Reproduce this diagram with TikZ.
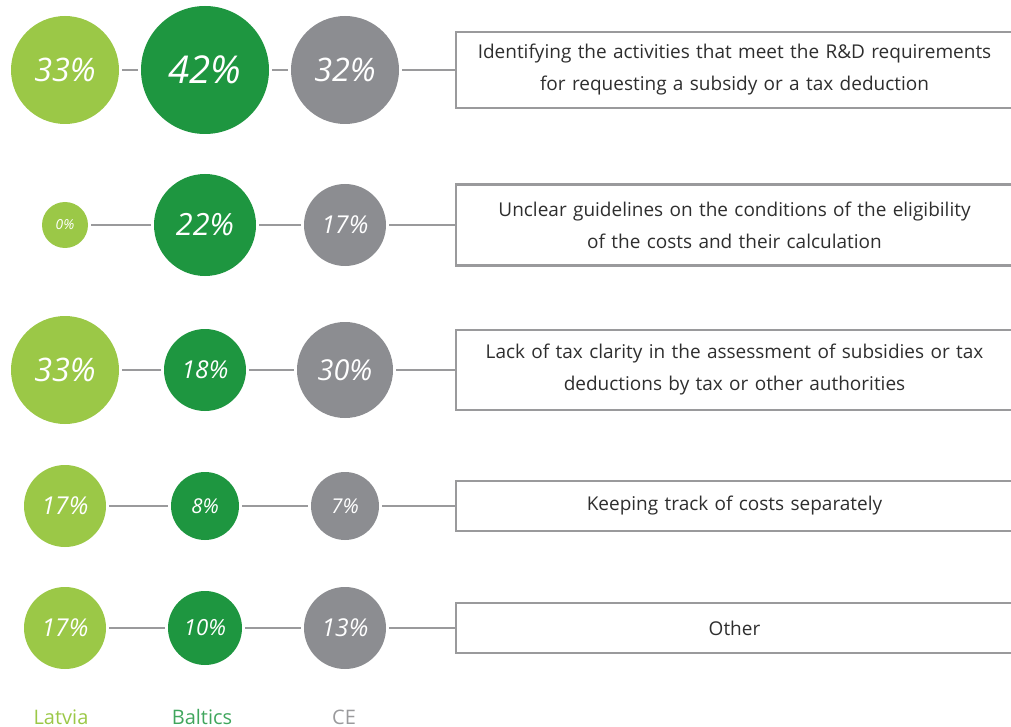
\documentclass[tikz,border=0pt]{standalone}
\usepackage{fontspec}
\setmainfont{Open Sans}
\definecolor{latv}{HTML}{9BC847}
\definecolor{balt}{HTML}{1E9640}
\definecolor{cegr}{HTML}{8C8D91}
\definecolor{lngr}{HTML}{9A9A9C}
\begin{document}
\begin{tikzpicture}[x=1pt, y=-1pt,
	bub/.style={circle, inner sep=0pt, text=white},
	link/.style={draw=lngr, line width=2.5pt, shorten <=3pt, shorten >=3pt},
	tobox/.style={draw=lngr, line width=2.5pt, shorten <=3pt},
	issue/.style={draw=lngr, line width=2.2pt, minimum width=557pt, text width=545pt, align=center, text=black!82, font=\fontsize{19}{32}\selectfont}]
\useasboundingbox (0,0) rectangle (1011,727);

% bubbles: row / y / radius and value for Latvia, Baltics, CE
\foreach \i/\y/\ra/\pa/\rb/\pb/\rc/\pc in {1/70/54/33/64/42/54/32, 2/225/23/0/51/22/41/17, 3/370/54/33/41/18/48/30, 4/506/41/17/34/8/34/7, 5/628/41/17/37/10/41/13}
{
	\pgfmathsetmacro\fa{0.6*\ra} \pgfmathsetmacro\fb{0.6*\rb} \pgfmathsetmacro\fc{0.6*\rc}
	\node [bub, fill=latv, minimum size=2*\ra, font=\itshape\fontsize{\fa}{\fa}\selectfont] (L\i) at (65,\y) {\pa\%};
	\node [bub, fill=balt, minimum size=2*\rb, font=\itshape\fontsize{\fb}{\fb}\selectfont] (B\i) at (205,\y) {\pb\%};
	\node [bub, fill=cegr, minimum size=2*\rc, font=\itshape\fontsize{\fc}{\fc}\selectfont] (C\i) at (345,\y) {\pc\%};
	\draw [link] (L\i) -- (B\i);
	\draw [link] (B\i) -- (C\i);
}

\node [issue, minimum height=76] (T1) at (734.5,70) {Identifying the activities that meet the R\&D requirements\\for requesting a subsidy or a tax deduction};
\node [issue, minimum height=81] (T2) at (734.5,225) {Unclear guidelines on the conditions of the eligibility\\of the costs and their calculation};
\node [issue, minimum height=80] (T3) at (734.5,370) {Lack of tax clarity in the assessment of subsidies or tax\\deductions by tax or other authorities};
\node [issue, minimum height=50] (T4) at (734.5,506) {Keeping track of costs separately};
\node [issue, minimum height=50] (T5) at (734.5,628) {Other};

\foreach \i in {1,...,5}
	\draw [tobox] (C\i) -- (T\i);

\node [anchor=base, text=latv, font=\fontsize{20}{20}\selectfont] (latvia) at (61,724) {Latvia};
\node [anchor=base, text=balt!85!white, font=\fontsize{20}{20}\selectfont] (baltics) at (202,724) {Baltics};
\node [anchor=base, text=lngr, font=\fontsize{20}{20}\selectfont] (ce) at (344,724) {CE};
\end{tikzpicture}
\end{document}
